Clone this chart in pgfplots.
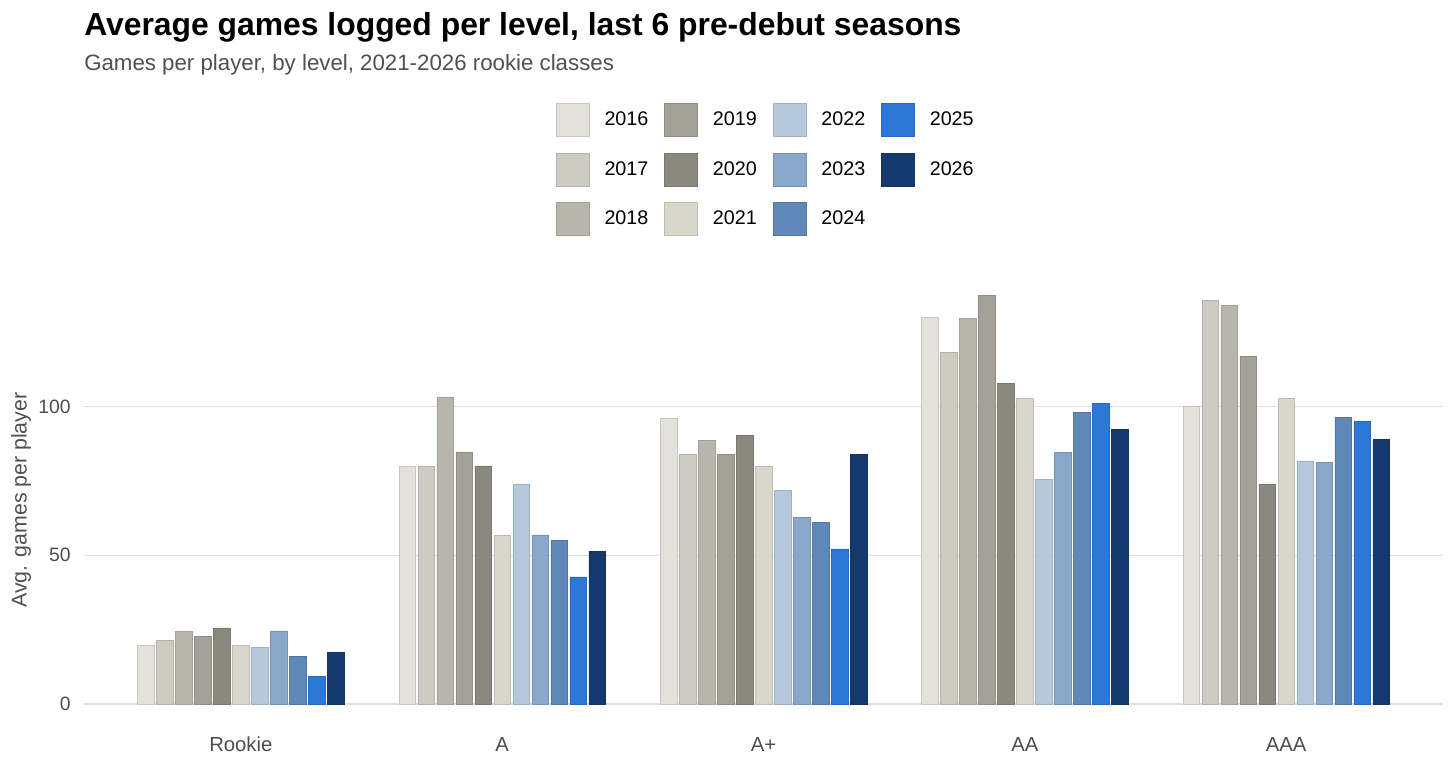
\documentclass[border=0pt]{standalone}
\usepackage{pgfplots}
\usepackage{pgfplotstable}
\pgfplotsset{compat=1.18}
\usepackage{fontspec}
\setmainfont{Liberation Sans}

\definecolor{c16}{RGB}{227,225,219}
\definecolor{c17}{RGB}{205,203,194}
\definecolor{c18}{RGB}{184,182,172}
\definecolor{c19}{RGB}{163,161,152}
\definecolor{c20}{RGB}{138,137,128}
\definecolor{c21}{RGB}{217,215,203}
\definecolor{c22}{RGB}{182,200,220}
\definecolor{c23}{RGB}{137,168,201}
\definecolor{c24}{RGB}{95,135,184}
\definecolor{c25}{RGB}{43,120,214}
\definecolor{c26}{RGB}{20,58,110}
\definecolor{gridc}{RGB}{224,224,214}
\definecolor{tickc}{RGB}{77,77,77}
\definecolor{subc}{RGB}{80,80,80}

\pgfplotstableread{
x y16 y17 y18 y19 y20 y21 y22 y23 y24 y25 y26
0 19.8 21.3 24.4 22.6 25.6 19.8 19.0 24.6 15.9 9.2 17.4
1 80.0 80.0 103.2 84.7 80.0 56.8 74.0 56.8 55.0 42.7 51.4
2 96.1 83.8 88.6 84.0 90.2 79.9 71.7 62.6 61.0 52.1 83.8
3 129.8 118.2 129.5 137.4 107.8 102.6 75.5 84.6 97.9 101.0 92.3
4 100.0 135.7 134.0 116.9 74.0 102.6 81.7 81.2 96.4 95.0 88.8
}\datatable

\pgfplotsset{
  mybar/.style={ybar, bar width=0.064, fill=#1, draw=#1!88!black, line width=0.4pt,
    legend image code/.code={\fill[fill=#1, draw=#1!88!black, line width=0.4pt] (0pt,-12.375pt) rectangle (24.75pt,12.375pt);}},
}

\begin{document}
\begin{tikzpicture}
\path[use as bounding box] (0,0) rectangle (1092pt,570.75pt);
\node[anchor=base west, inner sep=0pt, font=\fontsize{23.9pt}{28pt}\selectfont\bfseries] at (63pt,543.75pt) {Average games logged per level, last 6 pre-debut seasons};
\node[anchor=base west, inner sep=0pt, font=\fontsize{16.7pt}{20pt}\selectfont, text=subc] at (63pt,517.5pt) {Games per player, by level, 2021-2026 rookie classes};
\node[rotate=90, inner sep=0pt, font=\fontsize{16pt}{19pt}\selectfont, text=subc] at (15.75pt,195.75pt) {Avg. games per player};
\begin{axis}[
  at={(63pt,42.75pt)}, anchor=south west,
  scale only axis, width=1019.25pt, height=306pt,
  xmin=-0.6, xmax=4.6, ymin=0, ymax=137.1,
  clip=false,
  axis line style={draw=none},
  major tick length=0pt, tick style={draw=none},
  ymajorgrids, grid style={color=gridc, line width=0.8pt},
  ytick={0,50,100},
  xtick={0,1,2,3,4}, xticklabels={Rookie,A,A+,AA,AAA},
  /pgf/number format/assume math mode=true,
  tick label style={text=tickc},
  yticklabel style={font=\fontsize{14.5pt}{17pt}\selectfont, anchor=east, inner sep=0pt, xshift=-9.75pt},
  xticklabel style={font=\fontsize{15.2pt}{18pt}\selectfont, anchor=base, inner sep=0pt, yshift=-35.25pt},
  legend columns=3, transpose legend,
  legend cell align=left,
  legend style={draw=none, fill=none, inner sep=0pt, outer sep=0pt,
    at={(0.3473,1.473)}, anchor=north west,
    font=\fontsize{14.8pt}{17pt}\selectfont,
    nodes={inner sep=0pt},
    row sep=12pt,
    /tikz/every odd column/.append style={column sep=11.25pt},
    /tikz/every even column/.append style={column sep=12pt}},
]
\addplot[mybar=c16, bar shift=-0.3635] table[x=x,y=y16]{\datatable};
\addplot[mybar=c17, bar shift=-0.2908] table[x=x,y=y17]{\datatable};
\addplot[mybar=c18, bar shift=-0.2181] table[x=x,y=y18]{\datatable};
\addplot[mybar=c19, bar shift=-0.1454] table[x=x,y=y19]{\datatable};
\addplot[mybar=c20, bar shift=-0.0727] table[x=x,y=y20]{\datatable};
\addplot[mybar=c21, bar shift=0] table[x=x,y=y21]{\datatable};
\addplot[mybar=c22, bar shift=0.0727] table[x=x,y=y22]{\datatable};
\addplot[mybar=c23, bar shift=0.1454] table[x=x,y=y23]{\datatable};
\addplot[mybar=c24, bar shift=0.2181] table[x=x,y=y24]{\datatable};
\addplot[mybar=c25, bar shift=0.2908] table[x=x,y=y25]{\datatable};
\addplot[mybar=c26, bar shift=0.3635] table[x=x,y=y26]{\datatable};
\legend{2016,2017,2018,2019,2020,2021,2022,2023,2024,2025,2026}
\end{axis}
\end{tikzpicture}
\end{document}
